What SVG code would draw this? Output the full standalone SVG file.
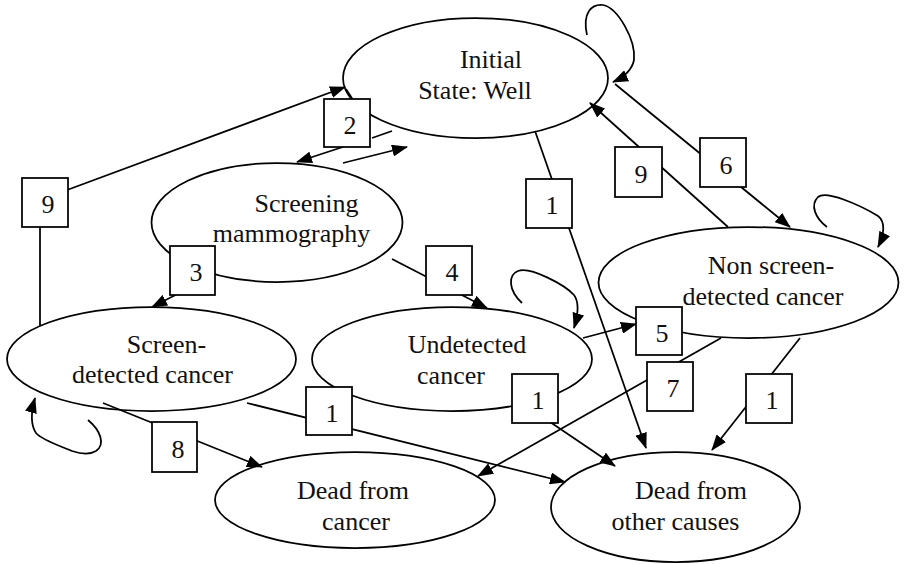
<svg xmlns="http://www.w3.org/2000/svg" width="915" height="564" viewBox="0 0 915 564">
  <style>
    .state { fill: #fff; stroke: #000; stroke-width: 1.75; }
    .lbl { fill: #fff; stroke: #000; stroke-width: 1.75; }
    .edge { fill: none; stroke: #000; stroke-width: 1.75; }
    .arr { marker-end: url(#ah); }
    text { font-size: 26px; fill: #111; text-anchor: middle; }
  </style>
  <defs>
    <marker id="ah" markerWidth="16" markerHeight="12" refX="15" refY="6" orient="auto" markerUnits="userSpaceOnUse">
      <path d="M0,0 L16,6 L0,12 z" fill="#000"/>
    </marker>
  </defs>
  <rect width="915" height="564" fill="#fff"/>

  <g font-family="'Liberation Serif', 'DejaVu Serif', serif">
  <!-- states -->
  <g id="well">
    <ellipse class="state" cx="475.5" cy="78" rx="132.5" ry="60"/>
    <text x="491" y="68">Initial</text>
    <text x="475" y="99">State: Well</text>
  </g>
  <g id="screening">
    <ellipse class="state" cx="277" cy="222.5" rx="125.5" ry="59.5"/>
    <text x="306.5" y="212">Screening</text>
    <text x="291.5" y="242">mammography</text>
  </g>
  <g id="screen-detected">
    <ellipse class="state" cx="151.5" cy="359" rx="144.5" ry="52"/>
    <text x="166.5" y="353">Screen-</text>
    <text x="152.5" y="383">detected cancer</text>
  </g>
  <g id="undetected">
    <ellipse class="state" cx="452" cy="359" rx="140" ry="52"/>
    <text x="467" y="353">Undetected</text>
    <text x="451" y="384">cancer</text>
  </g>
  <g id="non-screen-detected">
    <ellipse class="state" cx="748.5" cy="282.5" rx="150" ry="55.5"/>
    <text x="771" y="274">Non screen-</text>
    <text x="763" y="305">detected cancer</text>
  </g>
  <g id="dead-cancer">
    <ellipse class="state" cx="355" cy="500" rx="140" ry="48"/>
    <text x="353" y="499">Dead from</text>
    <text x="356" y="530">cancer</text>
  </g>
  <g id="dead-other">
    <ellipse class="state" cx="675.5" cy="507" rx="124.5" ry="55"/>
    <text x="691" y="499">Dead from</text>
    <text x="675.5" y="530">other causes</text>
  </g>

  <!-- transitions -->
  <g id="connectors">
    <path class="edge arr" d="M40,326 L40,200 L345,87"/>
    <path class="edge" d="M346,89 L355,103"/>
    <path class="edge arr" d="M355,143 L297,162"/>
    <path class="edge" d="M372,138 L392,131"/>
    <path class="edge arr" d="M343,163 L407,147"/>
    <path class="edge arr" d="M195,285 L152,307"/>
    <path class="edge arr" d="M392,259 L487,308"/>
    <path class="edge arr" d="M535,131 L646,448"/>
    <path class="edge arr" d="M728,227 L590,103"/>
    <path class="edge arr" d="M615,84 L790,227"/>
    <path class="edge arr" d="M583,338 L636,324"/>
    <path class="edge arr" d="M721,338 L478,476"/>
    <path class="edge arr" d="M800,338 L712,450"/>
    <path class="edge arr" d="M525,405 L615,466"/>
    <path class="edge arr" d="M247,403 L565,482"/>
    <path class="edge arr" d="M103,403 L262,467"/>
    <!-- self loops -->
    <path class="edge arr" d="M587,35 C582,12 592,4 603,5 C618,8 636,40 634,60 C632,70 624,77 613,82"/>
    <path class="edge arr" d="M827,227 C815,218 810,205 818,197 C826,190 860,205 878,216 C886,222 884,235 878,247"/>
    <path class="edge arr" d="M522,303 C508,290 508,275 518,271 C530,266 565,285 574,295 C580,303 578,315 574,328"/>
    <path class="edge arr" d="M88,420 C100,430 106,444 96,451 C88,456 78,453 72,451 C60,446 42,440 36,433 C30,424 31,412 35,398"/>
  </g>

  <!-- rate labels -->
  <g id="r2"><rect class="lbl" x="324" y="99" width="46" height="48"/><text x="350" y="134">2</text></g>
  <g id="r9a"><rect class="lbl" x="22" y="178" width="46" height="49"/><text x="48" y="213">9</text></g>
  <g id="r3"><rect class="lbl" x="170" y="246" width="45" height="49"/><text x="196" y="281">3</text></g>
  <g id="r4"><rect class="lbl" x="426" y="246" width="46" height="49"/><text x="452" y="281">4</text></g>
  <g id="r1a"><rect class="lbl" x="526" y="179" width="46" height="49"/><text x="552" y="214">1</text></g>
  <g id="r9b"><rect class="lbl" x="615" y="147" width="47" height="50"/><text x="641" y="183">9</text></g>
  <g id="r6"><rect class="lbl" x="700" y="138" width="46" height="49"/><text x="726" y="174">6</text></g>
  <g id="r5"><rect class="lbl" x="636" y="307" width="46" height="48"/><text x="662" y="342">5</text></g>
  <g id="r7"><rect class="lbl" x="647" y="362" width="46" height="49"/><text x="673" y="397">7</text></g>
  <g id="r1b"><rect class="lbl" x="746" y="374" width="46" height="49"/><text x="772" y="409">1</text></g>
  <g id="r1c"><rect class="lbl" x="512" y="374" width="46" height="49"/><text x="538" y="409">1</text></g>
  <g id="r1d"><rect class="lbl" x="306" y="387" width="46" height="48"/><text x="332" y="422">1</text></g>
  <g id="r8"><rect class="lbl" x="152" y="422" width="45" height="50"/><text x="178" y="458">8</text></g>
  </g>
</svg>
